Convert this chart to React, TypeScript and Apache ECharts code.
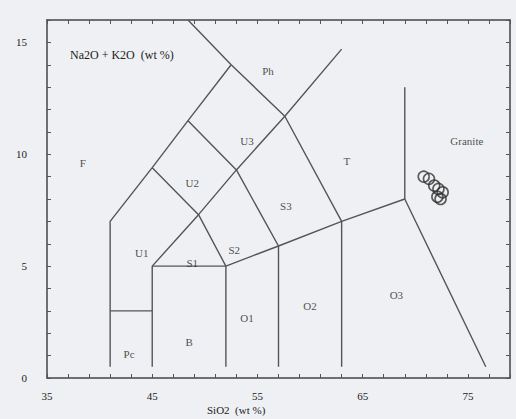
import React, { useEffect, useRef } from "react";
import * as echarts from "echarts";

// SiO2 (wt %) / Na2O + K2O (wt %) boundary lines of the TAS diagram
const lineFoidite: number[][] = [[41, 0.5], [41, 7], [45, 9.4], [48.4, 11.5], [52.5, 14]];
const linePc: number[][] = [[41, 3], [45, 3]];
const lineBase: number[][] = [[45, 0.5], [45, 5], [52, 5], [57, 5.9], [63, 7], [69, 8], [76.7, 0.5]];
const lineU: number[][] = [[45, 5], [49.4, 7.3], [53, 9.3], [57.6, 11.7], [63, 14.7]];
const lineS1U1: number[][] = [[52, 5], [49.4, 7.3], [45, 9.4]];
const lineS2U2: number[][] = [[57, 5.9], [53, 9.3], [48.4, 11.5]];
const linePh: number[][] = [[63, 7], [57.6, 11.7], [52.5, 14], [48.4, 16]];
const lineB: number[][] = [[52, 0.5], [52, 5]];
const lineO1: number[][] = [[57, 0.5], [57, 5.9]];
const lineO2: number[][] = [[63, 0.5], [63, 7]];
const lineGranite: number[][] = [[69, 8], [69, 13]];
const boundaries = [lineFoidite, linePc, lineBase, lineU, lineS1U1, lineS2U2, linePh, lineB, lineO1, lineO2, lineGranite];

// Region labels
const regionNames = ["F", "U1", "U2", "U3", "Ph", "T", "S1", "S2", "S3", "Pc", "B", "O1", "O2", "O3", "Granite"];
const regionX = [38.4, 44.0, 48.8, 54.0, 56.0, 63.5, 48.8, 52.8, 57.7, 42.8, 48.5, 54.0, 60.0, 68.2, 74.9];
const regionY = [9.6, 5.6, 8.7, 10.6, 13.7, 9.7, 5.15, 5.7, 7.7, 1.07, 1.6, 2.7, 3.2, 3.7, 10.6];

// Samples
const sampleSiO2 = [70.8, 71.3, 71.8, 72.2, 72.6, 72.1, 72.4];
const sampleAlk = [9.0, 8.9, 8.6, 8.45, 8.3, 8.1, 8.0];

const xTickLabels = [35, 45, 55, 65, 75];
const yTickLabels = [0, 5, 10, 15];

const FONT = "'Liberation Serif', 'DejaVu Serif', serif";
const INK = "#222";
const LINE = "#555";

function makeAxis(kind: "x" | "y", position: string, labels: boolean): any {
  const isX = kind === "x";
  const ticks = isX ? xTickLabels : yTickLabels;
  return {
    type: "value",
    position,
    min: isX ? 35 : 0,
    max: isX ? 79 : 16,
    interval: isX ? 2 : 1,
    axisLine: { show: true, onZero: false, lineStyle: { color: "#444", width: 1.5 } },
    axisTick: { show: true, inside: true, length: 4, lineStyle: { color: "#555", width: 1 } },
    splitLine: { show: false },
    axisLabel: {
      show: true,
      margin: isX ? 12 : labels ? 20 : 3,
      formatter: (v: number) => (labels && ticks.includes(v) ? String(v) : ""),
      fontFamily: FONT,
      fontSize: 11,
      color: INK,
    },
  };
}

export default function App() {
  const ref = useRef<HTMLDivElement>(null);
  useEffect(() => {
    document.body.style.margin = "0";
    const chart = echarts.init(ref.current!, null, { renderer: "svg" });
    const series: any[] = boundaries.map((b) => ({
      type: "line",
      data: b,
      symbol: "none",
      lineStyle: { color: LINE, width: 1.4 },
      silent: true,
      z: 2,
    }));
    series.push({
      type: "scatter",
      xAxisIndex: 1,
      yAxisIndex: 1,
      data: regionX.map((x, i) => [x, regionY[i], regionNames[i]]),
      symbol: "circle",
      symbolSize: 1,
      itemStyle: { color: "rgba(0,0,0,0)" },
      label: {
        show: true,
        position: "inside",
        formatter: (p: any) => p.value[2],
        fontFamily: FONT,
        fontSize: 11,
        color: INK,
      },
      z: 3,
    });
    series.push({
      type: "scatter",
      data: sampleSiO2.map((x, i) => [x, sampleAlk[i]]),
      symbol: "circle",
      symbolSize: 11,
      itemStyle: { color: "rgba(0,0,0,0)", borderColor: "#333", borderWidth: 1.6 },
      z: 4,
    });
    chart.setOption({
      animation: false,
      backgroundColor: "#eef0f3",
      grid: { left: 47, right: 4, top: 20, bottom: 41 },
      xAxis: [makeAxis("x", "bottom", true), makeAxis("x", "top", false)],
      yAxis: [makeAxis("y", "left", true), makeAxis("y", "right", false)],
      graphic: [
        {
          type: "text",
          left: 70,
          top: 49,
          style: { text: "Na2O + K2O  (wt %)", fontFamily: FONT, fontSize: 12, fill: INK },
        },
        {
          type: "text",
          left: 207,
          top: 404,
          style: { text: "SiO2  (wt %)", fontFamily: FONT, fontSize: 11, fill: INK },
        },
      ],
      series,
    });
    return () => chart.dispose();
  }, []);
  return <div ref={ref} style={{ position: "fixed", left: 0, top: 0, width: 516, height: 419 }} />;
}
